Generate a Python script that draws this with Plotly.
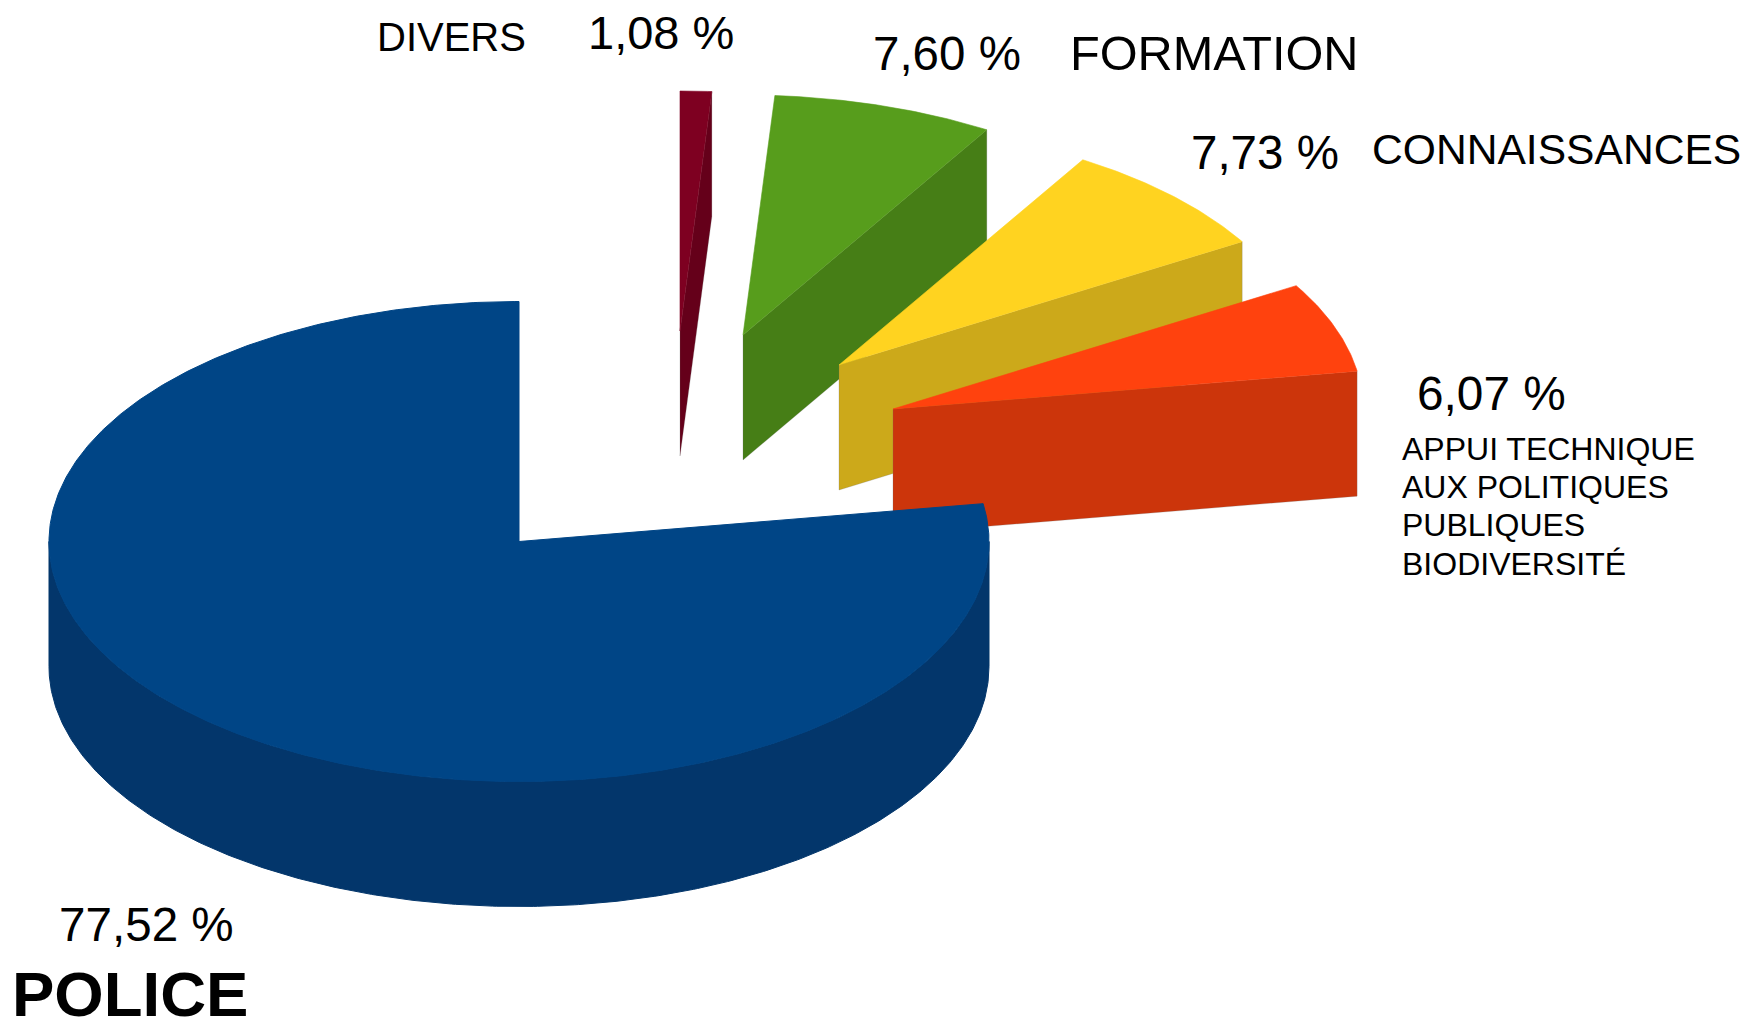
import numpy as np
import plotly.graph_objects as go

# Data (shares of the total, in %), clockwise from the top of the disc
categories = ["POLICE", "APPUI TECHNIQUE", "CONNAISSANCES", "FORMATION", "DIVERS"]
shares = [77.52, 6.07, 7.73, 7.60, 1.08]

# Styles and layout, kept apart from the data
top_colors = ["#004586", "#ff420e", "#ffd320", "#579d1c", "#7e0021"]
wall_colors = ["#03366b", "#cc350b", "#cca91a", "#467e16", "#65001a"]
explode_dx = [0, 374, 320, 224, 161]
explode_dy = [0, -132.5, -176.5, -206.5, -210.5]
CX, CY, RX, RY, DEPTH = 519, 541.5, 470, 240, 125
W, H = 1747, 1022
EDGE = "rgba(110,110,110,0.4)"


def arc(a0, a1, ox, oy, dz=0.0):
    t = np.radians(np.linspace(a0, a1, max(int(abs(a1 - a0) * 2), 8)))
    return CX + ox + RX * np.cos(t), CY + oy - RY * np.sin(t) + dz


def add_poly(fig, x, y, color, name, edge, width=0.6):
    fig.add_trace(go.Scatter(
        x=np.append(x, x[0]), y=np.append(y, y[0]), mode="lines", fill="toself",
        fillcolor=color, name=name, hoverinfo="name",
        line=dict(color=edge, width=width),
    ))


# Angles of the slices, in degrees: the disc starts at the top and runs counterclockwise
# through POLICE, then on through the others
angles = [90.0]
for s in shares:
    angles.append(angles[-1] + s * 3.6)
spans = [(angles[i], angles[i + 1]) for i in range(len(shares))]

fig = go.Figure()

# Draw from back to front: the small slices first, POLICE last
for i in range(len(shares) - 1, 0, -1):
    a0, a1 = spans[i]
    ox, oy = explode_dx[i], explode_dy[i]
    a0n, a1n = (a0 - 360), (a1 - 360)
    ax, ay = CX + ox, CY + oy
    ex = ax + RX * np.cos(np.radians(a0n))
    ey = ay - RY * np.sin(np.radians(a0n))
    # Side face along the slice's first radius
    add_poly(fig,
             np.array([ax, ex, ex, ax]),
             np.array([ay, ey, ey + DEPTH, ay + DEPTH]),
             wall_colors[i], categories[i] + " (flanc)", EDGE)
    # Top face
    xs, ys = arc(a0n, a1n, ox, oy)
    add_poly(fig, np.concatenate([[ax], xs]), np.concatenate([[ay], ys]),
             top_colors[i], categories[i], top_colors[i])

# POLICE: the outer wall on the visible half, then the top
wx, wy = arc(180, 360, 0, 0)
bx, by = arc(360, 180, 0, 0, DEPTH)
add_poly(fig, np.concatenate([wx, bx]), np.concatenate([wy, by]),
         wall_colors[0], categories[0] + " (flanc)", wall_colors[0], 1.0)
xs, ys = arc(spans[0][0], spans[0][1], 0, 0)
add_poly(fig, np.concatenate([[CX], xs]), np.concatenate([[CY], ys]),
         top_colors[0], categories[0], top_colors[0], 1.0)


def pct(v):
    return f"{v:.2f}".replace(".", ",") + " %"


labels = [
    ("DIVERS", 376, 37, 40, False),
    (pct(shares[4]), 587, 32, 47, False),
    (pct(shares[3]), 872, 53, 47.5, False),
    ("FORMATION", 1069, 53, 48.7, False),
    (pct(shares[2]), 1190, 152, 47.5, False),
    ("CONNAISSANCES", 1371, 149, 42.6, False),
    (pct(shares[1]), 1416, 393, 47.8, False),
    ("APPUI TECHNIQUE", 1401, 449, 32, False),
    ("AUX POLITIQUES", 1401, 487, 32, False),
    ("PUBLIQUES", 1401, 525, 32, False),
    ("BIODIVERSITÉ", 1401, 564, 32, False),
    (pct(shares[0]), 58, 924, 47.6, False),
    ("POLICE", 11, 984, 63.5, True),
]
for text, x, y, size, bold in labels:
    fig.add_annotation(
        x=x, y=y, xref="x", yref="y", text=f"<b>{text}</b>" if bold else text,
        showarrow=False, xanchor="left", yanchor="top" if bold else "middle", borderpad=0,
        yshift=26 if bold else 0,
        font=dict(family="Liberation Sans", size=size, color="#000000"),
    )

fig.update_layout(
    width=W, height=H, margin=dict(l=0, r=0, t=0, b=0),
    paper_bgcolor="white", plot_bgcolor="white", showlegend=False,
    xaxis=dict(range=[0, W], visible=False, fixedrange=True),
    yaxis=dict(range=[H, 0], visible=False, fixedrange=True),
)
fig.write_html("out.html", config=dict(displayModeBar=False),
               post_script="document.body.style.margin='0';document.body.style.overflow='hidden';")
